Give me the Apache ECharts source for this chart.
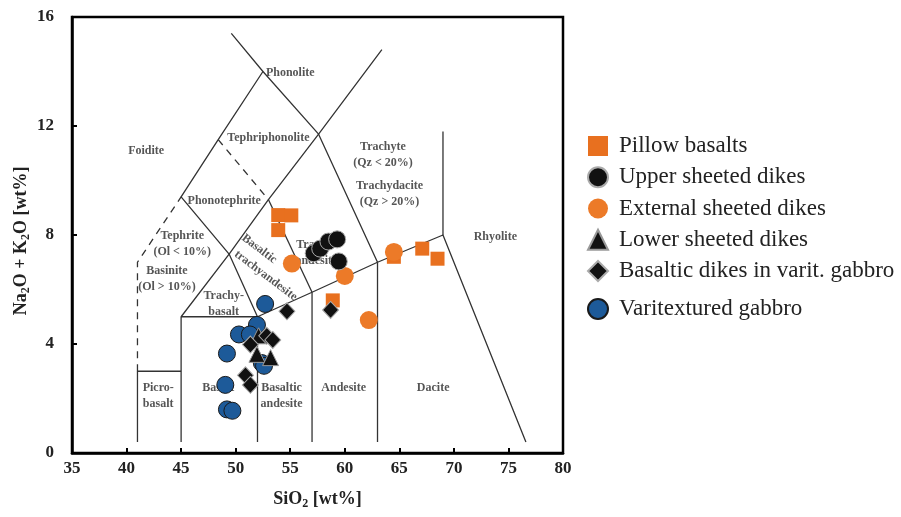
<!DOCTYPE html>
<html>
<head>
<meta charset="utf-8">
<script src="https://cdn.jsdelivr.net/npm/echarts@6/dist/echarts.min.js"></script>
<style>
  html, body { margin: 0; padding: 0; background: #fff; }
  #chart { width: 901px; height: 517px; }
</style>
</head>
<body>
<div id="chart"></div>
<script>
// ---- Sample compositions: [SiO2 wt%, Na2O+K2O wt%] ----
const pillowBasalts = [[53.9, 8.73], [55.1, 8.72], [53.9, 8.18], [58.9, 5.6], [64.5, 7.2], [67.1, 7.5], [68.5, 7.13]];
const upperDikes = [[57.15, 7.33], [57.75, 7.5], [58.5, 7.76], [59.3, 7.84], [59.45, 7.03]];
const externalDikes = [[55.15, 6.95], [60.0, 6.5], [62.2, 4.88], [64.5, 7.38]];
const lowerDikes = [[52.1, 4.3], [51.95, 3.62], [53.2, 3.5]];
const gabbroDikes = [[54.7, 5.2], [52.85, 4.3], [53.4, 4.15], [51.35, 3.98], [50.9, 2.85], [51.35, 2.5], [58.7, 5.25]];
const varitexturedGabbro = [[52.7, 5.47], [51.95, 4.7], [50.3, 4.35], [51.3, 4.35], [49.2, 3.65], [52.4, 3.3], [52.6, 3.2], [49.05, 2.5], [49.2, 1.6], [49.7, 1.55]];

// ---- TAS classification boundaries ----
const solidBoundaries = [
  [[41, 0.4], [41, 3], [45, 3]],
  [[45, 0.4], [45, 5], [52, 5], [52, 0.4]],
  [[52, 5], [57, 5.9], [63, 7], [69, 8], [76.6, 0.4]],
  [[57, 0.4], [57, 5.9]],
  [[63, 0.4], [63, 7]],
  [[69, 8], [69, 11.8]],
  [[45, 5], [49.4, 7.3], [53, 9.3], [57.6, 11.7], [63.4, 14.8]],
  [[52, 5], [49.4, 7.3], [45, 9.4], [48.4, 11.5], [52.5, 14], [49.6, 15.4]],
  [[53, 9.3], [57, 5.9]],
  [[52.5, 14], [57.6, 11.7], [63, 7]]
];
const dashedBoundaries = [
  [[41, 3], [41, 7], [45, 9.4]],
  [[48.4, 11.5], [53, 9.3]]
];

// ---- Field names and their anchor points ----
const fieldNames = ['Foidite', 'Phonolite', 'Tephriphonolite', 'Phonotephrite',
  'Tephrite\n(Ol < 10%)', 'Basinite\n(Ol > 10%)', 'Trachy-\nbasalt', 'Picro-\nbasalt',
  'Basalt', 'Basaltic\nandesite', 'Andesite', 'Dacite', 'Rhyolite',
  'Trachyte\n(Qz < 20%)', 'Trachydacite\n(Qz > 20%)', 'Trachy-\nandesite'];
const fieldAnchors = [[41.8, 11.1], [55.0, 13.95], [53.0, 11.57], [48.95, 9.25],
  [45.1, 7.67], [43.7, 6.4], [48.9, 5.48], [42.9, 2.11],
  [48.4, 2.4], [54.2, 2.11], [59.9, 2.4], [68.1, 2.4], [73.8, 7.92],
  [63.5, 10.95], [64.1, 9.51], [57.4, 7.34]];
const slantedNames = ['Basaltic', 'trachyandesite'];
const slantedAnchors = [[52.16, 7.49], [52.75, 6.51]];

const xTicks = { min: 35, max: 80, step: 5 };
const yTicks = { min: 0, max: 16, step: 4 };

const serif = '"Liberation Serif", "Times New Roman", serif';

const boundarySeries = [];
solidBoundaries.forEach(seg => boundarySeries.push({
  type: 'line', data: seg, symbol: 'none', silent: true, z: 1,
  lineStyle: { color: '#333', width: 1.3 }, animation: false
}));
dashedBoundaries.forEach(seg => boundarySeries.push({
  type: 'line', data: seg, symbol: 'none', silent: true, z: 1,
  lineStyle: { color: '#333', width: 1.3, type: [7, 6] }, animation: false
}));

const fieldLabels = {
  type: 'scatter', symbolSize: 0, silent: true, z: 1, animation: false,
  data: fieldNames.map((n, i) => ({ name: n, value: fieldAnchors[i] }))
    .concat(slantedNames.map((n, i) => ({ name: n, value: slantedAnchors[i], label: { rotate: -37 } }))),
  label: {
    show: true, position: 'inside', formatter: p => p.name,
    fontFamily: serif, fontWeight: 'bold', fontSize: 12, color: '#2a2a2a', lineHeight: 16
  }
};

const markerSeries = [
  { name: 'Varitextured gabbro', type: 'scatter', data: varitexturedGabbro, symbol: 'circle', symbolSize: 17, z: 3,
    itemStyle: { color: '#1D5A99', borderColor: '#1a1a1a', borderWidth: 1, opacity: 1 } },
  { name: 'Pillow basalts', type: 'scatter', data: pillowBasalts, symbol: 'rect', symbolSize: 14, z: 4,
    itemStyle: { color: '#E8701F', opacity: 1 } },
  { name: 'External sheeted dikes', type: 'scatter', data: externalDikes, symbol: 'circle', symbolSize: 18, z: 5,
    itemStyle: { color: '#EC7A28', opacity: 1 } },
  { name: 'Upper sheeted dikes', type: 'scatter', data: upperDikes, symbol: 'circle', symbolSize: 17, z: 5,
    itemStyle: { color: '#111', borderColor: '#aaa', borderWidth: 1, opacity: 1 } },
  { name: 'Lower sheeted dikes', type: 'scatter', data: lowerDikes, symbol: 'triangle', symbolSize: 16, z: 6,
    itemStyle: { color: '#111', borderColor: '#999', borderWidth: 1, opacity: 1 } },
  { name: 'Basaltic dikes in varit. gabbro', type: 'scatter', data: gabbroDikes, symbol: 'diamond', symbolSize: [16, 17], z: 6,
    itemStyle: { color: '#111', borderColor: '#aaa', borderWidth: 1, opacity: 1 } }
].map(s => Object.assign(s, { animation: false }));

const legendText = { fontFamily: serif, fontSize: 23, color: '#222', lineHeight: 24, padding: [0, 0, 0, 6] };
const subStyle = { fontFamily: serif, fontWeight: 'bold', fontSize: 12, color: '#222', verticalAlign: 'bottom', padding: [9, 0, 0, 0] };

const chart = echarts.init(document.getElementById('chart'), null, { renderer: 'canvas' });
chart.setOption({
  backgroundColor: '#fff',
  grid: { left: 72, right: 338, top: 17, bottom: 64, show: true, borderColor: '#000', borderWidth: 2.5 },
  legend: [
    { data: ['Pillow basalts', 'Upper sheeted dikes', 'External sheeted dikes', 'Lower sheeted dikes', 'Basaltic dikes in varit. gabbro'],
      orient: 'vertical', left: 587, top: 134, padding: 0, itemWidth: 20, itemHeight: 20, itemGap: 7.25,
      textStyle: legendText, selectedMode: false },
    { data: ['Varitextured gabbro'], orient: 'vertical', left: 587, top: 297, padding: 0, itemWidth: 20, itemHeight: 20,
      textStyle: legendText, selectedMode: false }
  ],
  xAxis: {
    type: 'value', min: xTicks.min, max: xTicks.max, interval: xTicks.step,
    name: 'SiO{s|2} [wt%]', nameLocation: 'middle', nameGap: 36, nameMoveOverlap: false,
    nameTextStyle: { fontFamily: serif, fontWeight: 'bold', fontSize: 18, color: '#222', rich: { s: subStyle } },
    axisLine: { lineStyle: { color: '#000', width: 2.5 } },
    axisTick: { inside: true, length: 5, lineStyle: { color: '#000', width: 2 } },
    axisLabel: { fontFamily: serif, fontWeight: 'bold', fontSize: 17, color: '#222', margin: 7 },
    splitLine: { show: false }
  },
  yAxis: {
    type: 'value', min: yTicks.min, max: yTicks.max, interval: yTicks.step,
    name: 'Na{s|2}O + K{s|2}O [wt%]', nameLocation: 'middle', nameGap: 40, nameMoveOverlap: false,
    nameTextStyle: { fontFamily: serif, fontWeight: 'bold', fontSize: 18, color: '#222', padding: [0, 12, 0, 0], rich: { s: subStyle } },
    axisLine: { lineStyle: { color: '#000', width: 2.5 } },
    axisTick: { inside: true, length: 5, lineStyle: { color: '#000', width: 2 } },
    axisLabel: { fontFamily: serif, fontWeight: 'bold', fontSize: 17, color: '#222', margin: 18 },
    splitLine: { show: false }
  },
  series: boundarySeries.concat([fieldLabels]).concat(markerSeries)
});
</script>
</body>
</html>
